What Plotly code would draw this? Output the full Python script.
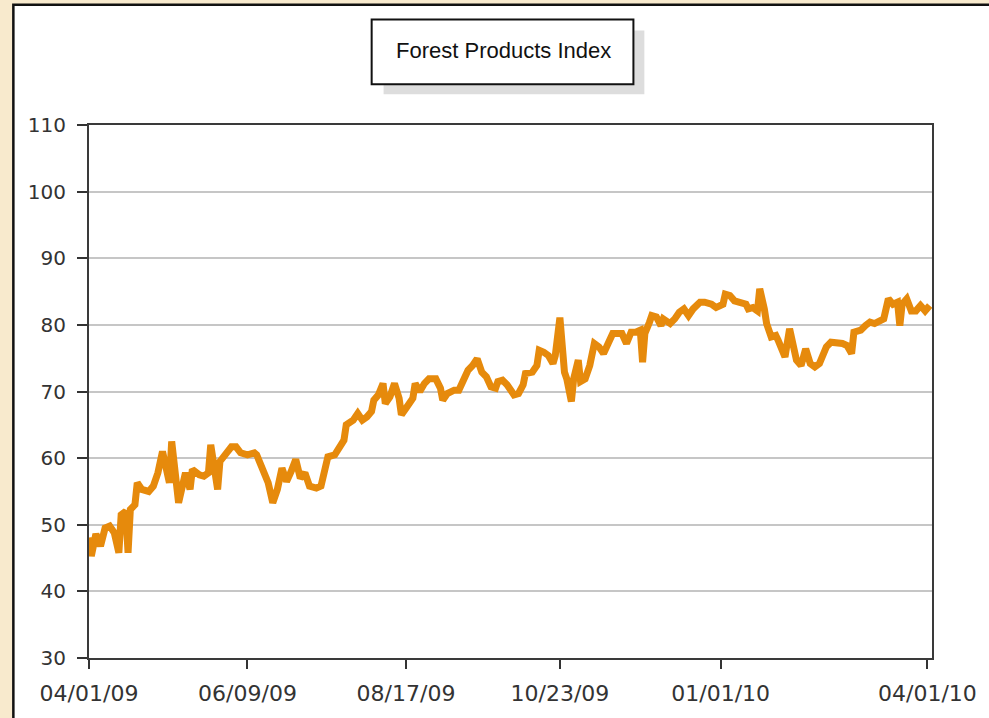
import pandas as pd
import plotly.graph_objects as go

# ── Data (days since 04/01/09, index value)
start_date = pd.Timestamp("2009-04-01")

q2_days = [0, 1, 3, 5, 7, 9, 11, 13, 14, 16, 17, 18, 20, 21, 23, 26, 28, 30, 32, 34,
           35, 36, 38, 39, 42, 44, 45, 48, 50, 52, 53, 55, 56, 57, 60, 62, 64, 66, 69, 72,
           73, 76, 78, 80, 82, 84, 86, 88, 90]
q2_vals = [48.1, 45.3, 48.6, 46.8, 49.5, 49.8, 48.8, 45.8, 51.5, 52.0, 45.8, 52.3, 53.0, 56.3, 55.3, 55.0, 55.8, 57.8, 61.0, 58.5,
           56.3, 62.5, 57.5, 53.3, 57.8, 55.3, 58.3, 57.5, 57.3, 57.8, 62.0, 58.0, 55.3, 59.5, 61.0, 61.7, 61.7, 60.8, 60.5, 60.8,
           60.5, 57.5, 56.3, 53.3, 55.3, 58.5, 56.5, 58.0, 59.8]

q3_days = [92, 94, 96, 99, 101, 102, 104, 107, 109, 111, 112, 115, 117, 119, 121, 123, 124, 126, 128, 129,
           131, 133, 135, 136, 138, 141, 142, 144, 146, 148, 151, 153, 154, 156, 159, 161, 163, 165, 167, 169,
           171, 173, 175, 177]
q3_vals = [57.0, 57.8, 55.8, 55.5, 55.8, 57.3, 60.2, 60.5, 61.7, 62.7, 65.0, 65.7, 66.7, 65.7, 66.2, 67.0, 68.7, 69.5, 71.2, 68.2,
           69.2, 71.2, 69.0, 66.5, 67.5, 69.0, 71.2, 70.0, 71.2, 71.9, 71.9, 70.5, 68.7, 69.7, 70.2, 70.2, 71.7, 73.2, 73.9, 74.9,
           72.9, 72.2, 70.7, 70.5]

q4_days = [178, 180, 182, 185, 187, 189, 190, 193, 195, 196, 198, 200, 202, 203, 205, 206, 207, 208, 210, 211,
           213, 214, 216, 218, 220, 222, 224, 226, 228, 230, 232, 234, 236, 238, 240, 241, 242, 244, 245, 247,
           249, 250, 253, 255, 257, 259, 261, 263, 266, 268]
q4_vals = [71.5, 71.7, 71.0, 69.5, 69.7, 71.0, 72.7, 72.9, 73.9, 76.2, 75.9, 75.4, 74.2, 75.4, 81.1, 75.4, 72.9, 71.9, 68.5, 71.9,
           74.7, 71.5, 71.9, 73.9, 77.2, 76.7, 75.7, 77.2, 78.7, 78.7, 78.7, 77.2, 78.9, 78.9, 79.2, 74.4, 78.7, 80.4, 81.4, 81.2,
           79.9, 80.9, 80.2, 80.9, 81.9, 82.4, 81.4, 82.4, 83.4, 83.4]

q1_days = [271, 273, 276, 277, 279, 281, 284, 286, 287, 289, 291, 292, 294, 295, 297, 299, 300, 302, 303, 305,
           307, 308, 310, 312, 314, 316, 318, 320, 321, 323, 325, 328, 330, 332, 333, 336, 338, 340, 342, 344,
           346, 348, 350, 352, 353, 354, 356, 358, 360, 362, 364, 366]
q1_vals = [83.1, 82.6, 83.1, 84.6, 84.4, 83.6, 83.4, 83.1, 82.4, 82.6, 82.1, 85.4, 82.4, 80.2, 78.2, 78.4, 77.7, 75.7, 75.2, 79.4,
           76.9, 74.7, 73.9, 76.4, 74.2, 73.7, 74.2, 75.7, 76.7, 77.4, 77.4, 77.2, 76.9, 75.7, 78.9, 79.2, 79.9, 80.4, 80.2, 80.7,
           80.9, 83.9, 83.1, 83.4, 79.9, 83.1, 83.9, 82.1, 82.1, 82.9, 82.1, 82.9]

tick_dates = ["2009-04-01", "2009-06-09", "2009-08-17", "2009-10-23", "2010-01-01", "2010-04-01"]
tick_labels = ["04/01/09", "06/09/09", "08/17/09", "10/23/09", "01/01/10", "04/01/10"]
y_ticks = [30, 40, 50, 60, 70, 80, 90, 100, 110]

title_text = "Forest Products Index"

BEIGE = "#F8EACD"

# ── Layout geometry (pixels of the 989x718 page)
W, H = 989, 718
L, R, T, B = 89, 936, 125, 661


def px(x):
    return (x - L) / (R - L)


def py(y):
    return (B - y) / (B - T)


days = q2_days + q3_days + q4_days + q1_days
vals = q2_vals + q3_vals + q4_vals + q1_vals
dates = start_date + pd.to_timedelta(days, unit="D")

fig = go.Figure()

fig.add_trace(
    go.Scatter(
        x=dates,
        y=vals,
        mode="lines",
        line=dict(color="#E68A0C", width=7),
        showlegend=False,
        hoverinfo="skip"
    )
)

# outer white panel, title box and its shadow
shapes = [
    dict(type="rect", xref="paper", yref="paper", layer="below",
         x0=px(13), x1=px(1000), y0=py(730), y1=py(4),
         fillcolor="white", line=dict(color="#111111", width=2.5)),
    dict(type="rect", xref="paper", yref="paper",
         x0=px(385), x1=px(647), y0=py(94), y1=py(30),
         fillcolor="#DDDDDD", line=dict(width=0)),
    dict(type="rect", xref="paper", yref="paper",
         x0=px(373), x1=px(636), y0=py(84), y1=py(19),
         fillcolor="white", line=dict(color="#111111", width=2)),
]

fig.update_layout(
    width=W,
    height=H,
    margin=dict(l=L, r=W - R, t=T, b=H - B),
    paper_bgcolor=BEIGE,
    plot_bgcolor="white",
    shapes=shapes,
    annotations=[
        dict(text=title_text, xref="paper", yref="paper",
             x=px(505), y=py(50), xanchor="center", yanchor="middle",
             showarrow=False,
             font=dict(family="Liberation Sans", size=22, color="#111111"))
    ],
    font=dict(family="DejaVu Sans", size=20, color="#333333")
)

fig.update_xaxes(
    type="date",
    range=[start_date, start_date + pd.Timedelta(days=367)],
    tickvals=tick_dates,
    ticktext=tick_labels,
    ticks="outside",
    ticklen=9,
    tickwidth=2,
    tickcolor="#333333",
    ticklabelstandoff=6,
    tickfont=dict(size=22),
    showgrid=False,
    showline=True,
    linecolor="#3A3A3A",
    linewidth=2,
    mirror=True,
    zeroline=False
)

fig.update_yaxes(
    range=[30, 110],
    tickvals=y_ticks,
    ticks="outside",
    ticklen=10,
    tickwidth=2,
    tickcolor="#333333",
    ticklabelstandoff=7,
    showgrid=True,
    gridcolor="#C6C6C6",
    gridwidth=1.5,
    showline=True,
    linecolor="#3A3A3A",
    linewidth=2,
    mirror=True,
    zeroline=False
)

# drop the browser's default page margin so the figure sits at the window corner
page_fix = (
    "document.body.style.margin='0';"
    "document.body.style.background='" + BEIGE + "';"
    "document.body.style.overflow='hidden';"
)

fig.write_html("out.html", post_script=page_fix, config={"displayModeBar": False})
